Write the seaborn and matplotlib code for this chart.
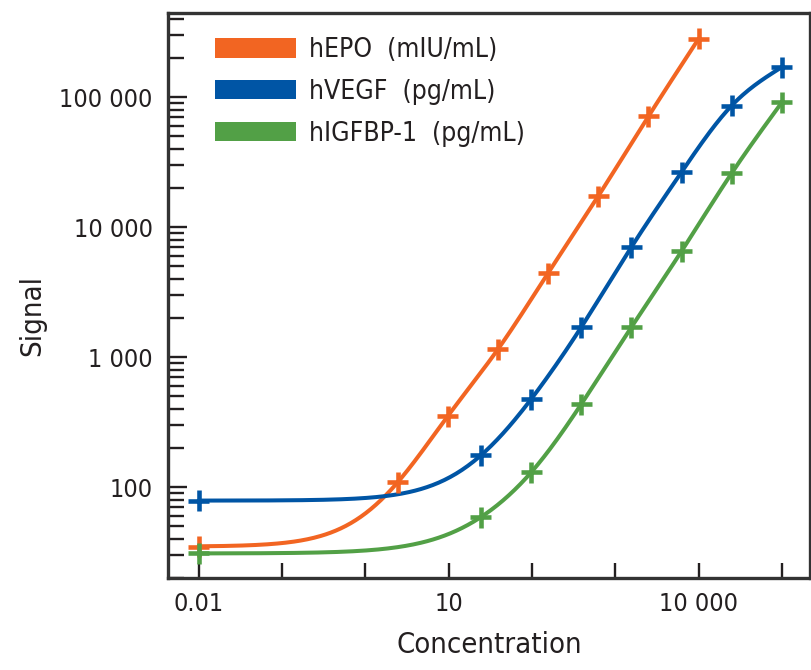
import numpy as np
import pandas as pd
import matplotlib
matplotlib.use('Agg')
import matplotlib.pyplot as plt
import matplotlib.ticker as mticker
from matplotlib.patches import Patch
import seaborn as sns

# values (4-fold dilution series, blank shown at 0.01)
epo_conc = [0.01, 2.441, 9.766, 39.06, 156.25, 625, 2500, 10000]
epo_signal = [35, 109, 352, 1150, 4430, 17300, 71000, 280000]

vegf_conc = [0.01, 24.41, 97.66, 390.6, 1562, 6250, 25000, 100000]
vegf_signal = [79, 176, 475, 1700, 7020, 26500, 86000, 170000]

igfbp_conc = [0.01, 24.41, 97.66, 390.6, 1562, 6250, 25000, 100000]
igfbp_signal = [31, 59, 130, 435, 1700, 6530, 26000, 91000]

labels = ['hEPO  (mIU/mL)', 'hVEGF  (pg/mL)', 'hIGFBP-1  (pg/mL)']
colors = ['#F26522', '#0055A5', '#52A046']

x_ticks = [0.01, 10, 10000]


def natural_spline(lx, ly, xs):
    k = len(lx)
    h = np.diff(lx)
    A = np.zeros((k, k))
    r = np.zeros(k)
    A[0, 0] = 1
    A[-1, -1] = 1
    for i in range(1, k - 1):
        A[i, i - 1] = h[i - 1]
        A[i, i] = 2 * (h[i - 1] + h[i])
        A[i, i + 1] = h[i]
        r[i] = 3 * ((ly[i + 1] - ly[i]) / h[i] - (ly[i] - ly[i - 1]) / h[i - 1])
    c = np.linalg.solve(A, r)
    b = (ly[1:] - ly[:-1]) / h - h * (2 * c[:-1] + c[1:]) / 3
    d = (c[1:] - c[:-1]) / (3 * h)
    idx = np.clip(np.searchsorted(lx, xs) - 1, 0, k - 2)
    dx = xs - lx[idx]
    ys = ly[idx] + b[idx] * dx + c[idx] * dx ** 2 + d[idx] * dx ** 3
    # straight extension (in log-log) below the first standard
    left = xs < lx[0]
    ys[left] = ly[0] + b[0] * (xs[left] - lx[0])
    return ys


def smooth_curve(xc, yc, n=300):
    # blank + smooth power-law part, spline through log(signal - blank)
    blank = yc[0]
    lx = np.log10(xc[1:])
    ly = np.log10(np.array(yc[1:], dtype=float) - blank)
    xs = np.linspace(np.log10(xc[0]), lx[-1], n)
    return 10 ** xs, blank + 10 ** natural_spline(lx, ly, xs)


points = pd.DataFrame({
    'conc': epo_conc + vegf_conc + igfbp_conc,
    'signal': epo_signal + vegf_signal + igfbp_signal,
    'assay': [labels[0]] * 8 + [labels[1]] * 8 + [labels[2]] * 8,
})

curves = []
for lab, xc, yc in zip(labels, [epo_conc, vegf_conc, igfbp_conc],
                       [epo_signal, vegf_signal, igfbp_signal]):
    sx, sy = smooth_curve(xc, yc)
    curves.append(pd.DataFrame({'conc': sx, 'signal': sy, 'assay': lab}))
curves = pd.concat(curves, ignore_index=True)

sns.set_style('ticks')
plt.rcParams['font.family'] = ['DejaVu Sans']
plt.rcParams['font.stretch'] = 'condensed'
text_col = '#231F20'

fig = plt.figure(figsize=(8.12, 6.7), dpi=100)
ax = fig.add_axes([0.207, 0.137, 0.791, 0.843])

pal = dict(zip(labels, colors))
sns.lineplot(data=curves, x='conc', y='signal', hue='assay', palette=pal,
             linewidth=2.9, legend=False, ax=ax, sort=False, estimator=None)
sns.scatterplot(data=points, x='conc', y='signal', hue='assay', palette=pal,
                marker='+', s=230, linewidth=3.3, legend=False, ax=ax, zorder=3)

ax.set_xscale('log')
ax.set_yscale('log')
ax.set_xlim(0.0043, 2.2e5)
ax.set_ylim(20, 4.4e5)

ax.xaxis.set_major_locator(mticker.LogLocator(base=10, numticks=20))
ax.xaxis.set_minor_locator(mticker.NullLocator())


def fmt(v, pos=None):
    if v < 1:
        return f'{v:g}'
    return f'{v:,.0f}'.replace(',', ' ')


def x_fmt(v, pos=None):
    for t in x_ticks:
        if abs(np.log10(v) - np.log10(t)) < 1e-6:
            return fmt(v)
    return ''


ax.xaxis.set_major_formatter(mticker.FuncFormatter(x_fmt))
ax.yaxis.set_major_locator(mticker.LogLocator(base=10, numticks=20))
ax.yaxis.set_minor_locator(mticker.LogLocator(base=10, subs=np.arange(2, 10), numticks=20))
ax.yaxis.set_major_formatter(mticker.FuncFormatter(fmt))
ax.yaxis.set_minor_formatter(mticker.NullFormatter())

ax.tick_params(axis='x', which='major', direction='in', length=11, width=1.7,
               colors=text_col, labelsize=18, pad=10, bottom=True)
ax.tick_params(axis='y', which='major', direction='in', length=14, width=1.7,
               colors=text_col, labelsize=18, pad=11, left=True)
ax.tick_params(axis='y', which='minor', direction='in', length=11.5, width=1.7,
               colors=text_col, left=True)

for s in ax.spines.values():
    s.set_visible(True)
    s.set_color('#333333')
    s.set_linewidth(2.4)

ax.set_xlabel('Concentration', fontsize=21, color=text_col)
ax.set_ylabel('Signal', fontsize=21, color=text_col)
ax.xaxis.set_label_coords(0.5, -0.093)
ax.yaxis.set_label_coords(-0.19, 0.465)

handles = [Patch(facecolor=c, edgecolor='none') for c in colors]
ax.legend(handles, labels, loc='upper left', bbox_to_anchor=(0.057, 0.977),
          borderaxespad=0, frameon=False, fontsize=19, handlelength=3.07,
          handleheight=0.76, handletextpad=0.5, labelspacing=0.6,
          labelcolor=text_col)

fig.savefig('out.png', dpi=100)
